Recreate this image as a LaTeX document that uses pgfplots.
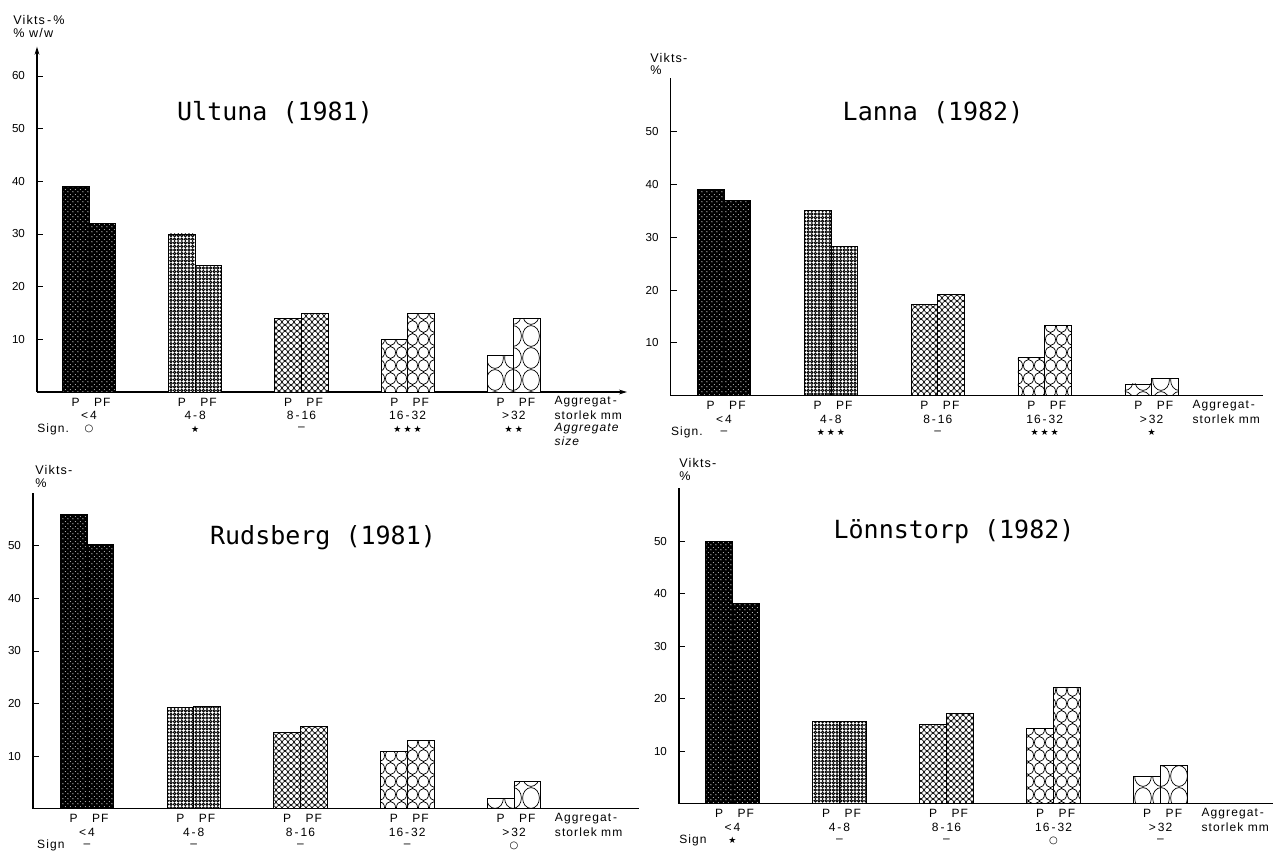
\documentclass[border=0pt]{standalone}
\usepackage{fontspec}
\setmainfont{Liberation Sans}
\newfontfamily\lab[LetterSpace=9]{Liberation Sans}
\newfontfamily\tkf{Liberation Sans}
\newfontfamily\ttl{DejaVu Sans Mono}
\newfontfamily\sym{DejaVu Sans}
\usepackage{pgfplots}
\pgfplotsset{compat=1.18}
\usetikzlibrary{patterns,arrows.meta}

% textures
\pgfdeclarepatternformonly{specks}{\pgfqpoint{0pt}{0pt}}{\pgfqpoint{2.4pt}{2.4pt}}{\pgfqpoint{2.4pt}{2.4pt}}{%
  \pgfpathcircle{\pgfqpoint{0.5pt}{0.6pt}}{0.32pt}%
  \pgfpathcircle{\pgfqpoint{1.7pt}{1.8pt}}{0.25pt}%
  \pgfusepath{fill}}
\pgfdeclarepatternformonly{tinycirc}{\pgfqpoint{-0.3pt}{-0.3pt}}{\pgfqpoint{2.1pt}{2.1pt}}{\pgfqpoint{1.8pt}{1.8pt}}{%
  \pgfsetlinewidth{0.45pt}%
  \pgfpathcircle{\pgfqpoint{0.9pt}{0.9pt}}{0.6pt}%
  \pgfusepath{stroke}}
\pgfdeclarepatternformonly{smallcirc}{\pgfqpoint{-0.3pt}{-0.3pt}}{\pgfqpoint{3.3pt}{3.3pt}}{\pgfqpoint{3pt}{3pt}}{%
  \pgfsetlinewidth{0.35pt}%
  \pgfpathcircle{\pgfqpoint{1.5pt}{1.5pt}}{1.3pt}%
  \pgfusepath{stroke}}
\pgfdeclarepatternformonly{medcirc}{\pgfqpoint{-0.3pt}{-0.3pt}}{\pgfqpoint{5.8pt}{6.8pt}}{\pgfqpoint{5.5pt}{6.5pt}}{%
  \pgfsetlinewidth{0.35pt}%
  \pgfpathellipse{\pgfqpoint{2.75pt}{3.25pt}}{\pgfqpoint{2.5pt}{0pt}}{\pgfqpoint{0pt}{3pt}}%
  \pgfusepath{stroke}}
\pgfdeclarepatternformonly{bigcirc}{\pgfqpoint{-0.3pt}{-0.3pt}}{\pgfqpoint{9.3pt}{11.3pt}}{\pgfqpoint{9pt}{11pt}}{%
  \pgfsetlinewidth{0.35pt}%
  \pgfpathellipse{\pgfqpoint{4.5pt}{5.5pt}}{\pgfqpoint{4.2pt}{0pt}}{\pgfqpoint{0pt}{5.2pt}}%
  \pgfusepath{stroke}}

\pgfplotsset{
  c1/.style={draw=black, line width=0.4pt, fill=black, postaction={pattern=specks, pattern color=white}},
  c2/.style={draw=black, line width=0.4pt, fill=white, postaction={pattern=tinycirc, pattern color=black}},
  c3/.style={draw=black, line width=0.4pt, fill=white, postaction={pattern=smallcirc, pattern color=black}},
  c4/.style={draw=black, line width=0.4pt, fill=white, postaction={pattern=medcirc, pattern color=black}},
  c5/.style={draw=black, line width=0.4pt, fill=white, postaction={pattern=bigcirc, pattern color=black}},
  panel/.style={
    scale only axis, anchor=south west, axis lines=left, ymin=0,
    xtick=\empty, ytick={10,20,...,50},
    tick align=inside, major tick length=3pt,
    tick style={black, line width=0.4pt},
    axis line style={black, line width=0.6pt, -},
    /pgf/number format/assume math mode=true,
    yticklabel style={font=\tkf\fontsize{5.8}{6}\selectfont, xshift=-2.5pt},
    clip=false, ybar, bar width=0.25,
  },
}
\tikzset{lab/.style={font=\lab\fontsize{6}{7}\selectfont, inner sep=0pt, anchor=center}}

% #1 category position, #2 texture, #3 P value, #4 PF value
\newcommand{\grp}[4]{%
  \addplot[#2, bar shift=-0.125] coordinates {(#1,#3)};
  \addplot[#2, bar shift=0.125] coordinates {(#1,#4)};
}
% #1 P pos, #2 PF pos, #3 centre, #4 category, #5 significance
\newcommand{\glab}[5]{%
  \node[lab, yshift=-5pt] at (axis cs:#1,0) {P};
  \node[lab, yshift=-5pt] at (axis cs:#2,0) {PF};
  \node[lab, yshift=-11.8pt] at (axis cs:#3,0) {#4};
  \node[lab, yshift=-18.5pt] at (axis cs:#3,0) {#5};
}
\newcommand{\st}{{\sym\fontsize{4.5}{5}\selectfont ★}}
\newcommand{\ci}{{\sym\fontsize{5}{5}\selectfont ○}}

\begin{document}
\begin{tikzpicture}
\useasboundingbox (0,0) rectangle (637pt,-426.5pt);

% ---------------- Ultuna (1981)
\begin{axis}[panel, at={(18.5pt,-196pt)}, width=295pt, height=172.65pt,
  xmin=-0.4896, xmax=5.066, ymax=65.56, ytick={10,20,...,60},
  axis line style={-{Stealth[length=4pt,width=2.4pt]}}]
  \grp{0}{c1}{39}{32}
  \grp{1}{c2}{30}{24}
  \grp{2}{c3}{14}{15}
  \grp{3}{c4}{10}{15}
  \grp{4}{c5}{7}{14}
  \glab{-0.125}{0.125}{0}{<\,4}{\ci}
  \glab{0.875}{1.125}{1}{4\,-\,8}{\st}
  \glab{1.875}{2.125}{2}{8\,-\,16}{–}
  \glab{2.875}{3.125}{3}{16\,-\,32}{\st\,\st\,\st}
  \glab{3.875}{4.125}{4}{>\,32}{\st\,\st}
  \node[lab, anchor=west, yshift=-5pt] at (axis cs:4.38,0) {Aggregat\,-};
  \node[lab, anchor=west, yshift=-11.8pt] at (axis cs:4.38,0) {storlek mm};
  \node[lab, anchor=west, yshift=-18.5pt] at (axis cs:4.38,0) {\itshape Aggregate};
  \node[lab, anchor=west, yshift=-24.5pt] at (axis cs:4.38,0) {\itshape size};
  \node[lab, anchor=west, yshift=-18.5pt] at (axis cs:-0.4896,0) {Sign.};
\end{axis}

% ---------------- Lanna (1982)
\begin{axis}[panel, at={(335.35pt,-197.75pt)}, width=296.15pt, height=158.75pt,
  xmin=-0.4986, xmax=5.042, ymax=60.19]
  \grp{0}{c1}{39}{37}
  \grp{1}{c2}{35}{28.2}
  \grp{2}{c3}{17.2}{19.2}
  \grp{3}{c4}{7.2}{13.3}
  \grp{4}{c5}{2.2}{3.3}
  \glab{-0.125}{0.125}{0}{<\,4}{–}
  \glab{0.875}{1.125}{1}{4\,-\,8}{\st\,\st\,\st}
  \glab{1.875}{2.125}{2}{8\,-\,16}{–}
  \glab{2.875}{3.125}{3}{16\,-\,32}{\st\,\st\,\st}
  \glab{3.875}{4.125}{4}{>\,32}{\st}
  \node[lab, anchor=west, yshift=-5pt] at (axis cs:4.38,0) {Aggregat\,-};
  \node[lab, anchor=west, yshift=-11.8pt] at (axis cs:4.38,0) {storlek mm};
  \node[lab, anchor=west, yshift=-18.5pt] at (axis cs:-0.4986,0) {Sign.};
\end{axis}

% ---------------- Rudsberg (1981)
\begin{axis}[panel, at={(16.5pt,-404.3pt)}, width=303pt, height=157.65pt,
  xmin=-0.5059, xmax=5.171, ymax=60]
  \grp{0}{c1}{56}{50.2}
  \grp{1}{c2}{19.2}{19.4}
  \grp{2}{c3}{14.5}{15.6}
  \grp{3}{c4}{10.9}{12.9}
  \grp{4}{c5}{1.9}{5.1}
  \glab{-0.125}{0.125}{0}{<\,4}{–}
  \glab{0.875}{1.125}{1}{4\,-\,8}{–}
  \glab{1.875}{2.125}{2}{8\,-\,16}{–}
  \glab{2.875}{3.125}{3}{16\,-\,32}{–}
  \glab{3.875}{4.125}{4}{>\,32}{\ci}
  \node[lab, anchor=west, yshift=-5pt] at (axis cs:4.38,0) {Aggregat\,-};
  \node[lab, anchor=west, yshift=-11.8pt] at (axis cs:4.38,0) {storlek mm};
  \node[lab, anchor=west, yshift=-18.5pt] at (axis cs:-0.47,0) {Sign};
\end{axis}

% ---------------- Lönnstorp (1982)
\begin{axis}[panel, at={(339.5pt,-401.75pt)}, width=297pt, height=157.6pt,
  xmin=-0.4989, xmax=5.0505, ymax=60.04]
  \grp{0}{c1}{50}{38.1}
  \grp{1}{c2}{15.6}{15.6}
  \grp{2}{c3}{15.1}{17.1}
  \grp{3}{c4}{14.3}{22.1}
  \grp{4}{c5}{5.1}{7.3}
  \glab{-0.125}{0.125}{0}{<\,4}{\st}
  \glab{0.875}{1.125}{1}{4\,-\,8}{–}
  \glab{1.875}{2.125}{2}{8\,-\,16}{–}
  \glab{2.875}{3.125}{3}{16\,-\,32}{\ci}
  \glab{3.875}{4.125}{4}{>\,32}{–}
  \node[lab, anchor=west, yshift=-5pt] at (axis cs:4.38,0) {Aggregat\,-};
  \node[lab, anchor=west, yshift=-11.8pt] at (axis cs:4.38,0) {storlek mm};
  \node[lab, anchor=west, yshift=-18.5pt] at (axis cs:-0.4989,0) {Sign};
\end{axis}

% ---------------- axis captions and titles
\tikzset{vk/.style={font=\lab\fontsize{6.3}{7}\selectfont, inner sep=0pt, anchor=west}}
\node[vk] at (6.5pt,-10pt) {Vikts\,-\,\%};
\node[vk] at (6.5pt,-16.5pt) {\% w/w};
\node[vk] at (325pt,-29pt) {Vikts-};
\node[vk] at (325pt,-35pt) {\%};
\node[vk] at (17.5pt,-235pt) {Vikts-};
\node[vk] at (17.5pt,-241.5pt) {\%};
\node[vk] at (339.5pt,-231.5pt) {Vikts-};
\node[vk] at (339.5pt,-238pt) {\%};

\tikzset{tt/.style={font=\ttl\fontsize{12.5}{14}\selectfont, inner sep=0pt, anchor=center}}
\node[tt] at (137.5pt,-56.5pt) {Ultuna (1981)};
\node[tt] at (466.5pt,-56.5pt) {Lanna (1982)};
\node[tt] at (161.5pt,-269pt) {Rudsberg (1981)};
\node[tt] at (477pt,-266pt) {Lönnstorp (1982)};
\end{tikzpicture}
\end{document}
